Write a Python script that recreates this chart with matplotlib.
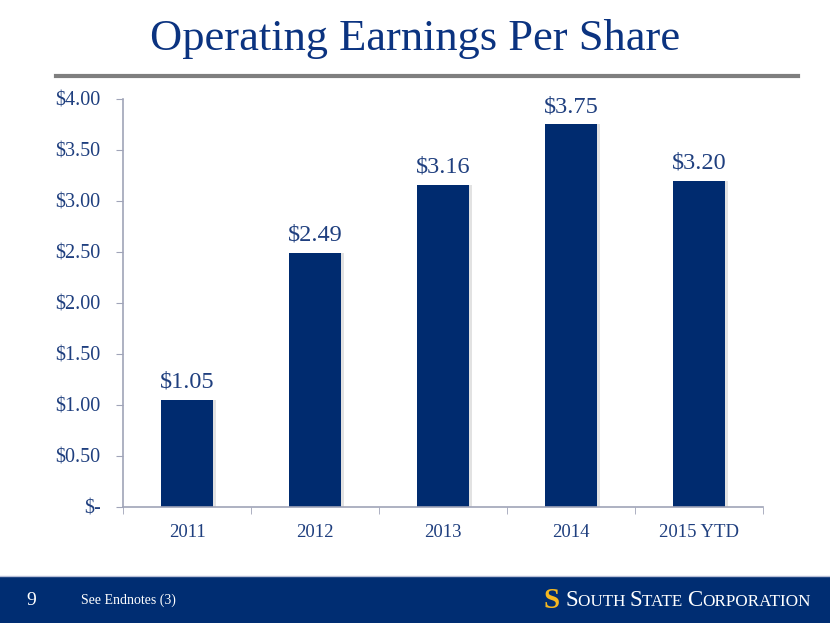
import matplotlib
matplotlib.use("Agg")
import matplotlib.pyplot as plt
import matplotlib.patches as mpatches
import numpy as np

# datos del gráfico
categorias = ["2011", "2012", "2013", "2014", "2015 YTD"]
eps = [1.05, 2.49, 3.16, 3.75, 3.20]
etiquetas = ["$1.05", "$2.49", "$3.16", "$3.75", "$3.20"]
ticks_y = [0, 0.5, 1.0, 1.5, 2.0, 2.5, 3.0, 3.5, 4.0]
ticks_y_txt = ["$-", "$0.50", "$1.00", "$1.50", "$2.00", "$2.50", "$3.00", "$3.50", "$4.00"]

azul = "#002B6F"
texto = "#1F3F7F"
fuente = "Liberation Serif"

fig = plt.figure(figsize=(8.3, 6.23), dpi=100, facecolor="white")
ax = fig.add_axes([0.1482, 0.1862, 0.7711, 0.6549])

x = np.arange(len(categorias))
# sombra suave detrás de las barras
ax.bar(x + 0.025, eps, width=0.41, color="#e2e2e2", zorder=1)
ax.bar(x, eps, width=0.41, color=azul, zorder=2)

for xi, v, t in zip(x, eps, etiquetas):
    ax.text(xi, v + 0.07, t, ha="center", va="bottom", fontsize=17.5,
            color=texto, family=fuente)

ax.set_xlim(-0.5, len(categorias) - 0.5)
ax.set_ylim(0, 4)
ax.set_yticks(ticks_y)
ax.set_yticklabels(ticks_y_txt, fontsize=14.5, color=texto, family=fuente)
ax.set_xticks(x)
ax.set_xticklabels(categorias, fontsize=13.5, color=texto, family=fuente)
ax.set_xticks(np.arange(len(categorias) + 1) - 0.5, minor=True)
ax.tick_params(axis="x", which="major", length=0, pad=12)
ax.tick_params(axis="x", which="minor", length=5, color="#a0a4b8", direction="out")
ax.tick_params(axis="y", length=5, color="#a0a4b8", pad=11)

for s in ["top", "right"]:
    ax.spines[s].set_visible(False)
for s in ["left", "bottom"]:
    ax.spines[s].set_color("#a0a4b8")
    ax.spines[s].set_linewidth(1.2)

# título
fig.text(0.5, 0.937, "Operating Earnings Per Share", ha="center", va="center",
         fontsize=32, color="#0B3380", family=fuente)
# línea gris bajo el título
fig.add_artist(plt.Line2D([0.067, 0.961], [0.878, 0.878], color="#7f7f7f",
                          linewidth=3, transform=fig.transFigure))

# banda inferior
fig.add_artist(mpatches.Rectangle((0, 0), 1, 0.075, transform=fig.transFigure,
                                  facecolor="#002D72", edgecolor="none"))
fig.add_artist(plt.Line2D([0, 1], [0.075, 0.075], color="#b8c0d8",
                          linewidth=1, transform=fig.transFigure))
fig.text(0.038, 0.036, "9", ha="center", va="center", fontsize=14,
         color="white", family=fuente)
fig.text(0.097, 0.036, "See Endnotes (3)", ha="left", va="center", fontsize=10,
         color="white", family=fuente)
fig.text(0.665, 0.036, "S", ha="center", va="center", fontsize=21,
         color="#F5B820", family=fuente, fontweight="bold")

# logotipo en versalitas simuladas
renderer = fig.canvas.get_renderer()
trozos = [("S", 16.5), ("OUTH ", 12.3), ("S", 16.5), ("TATE ", 12.3),
          ("C", 16.5), ("ORPORATION", 12.3)]
px = 0.681 * fig.bbox.width
for t, tam in trozos:
    obj = fig.text(px / fig.bbox.width, 0.027, t, ha="left", va="baseline",
                   fontsize=tam, color="white", family=fuente)
    px += obj.get_window_extent(renderer).width

fig.savefig("out.png", dpi=100, facecolor="white")
